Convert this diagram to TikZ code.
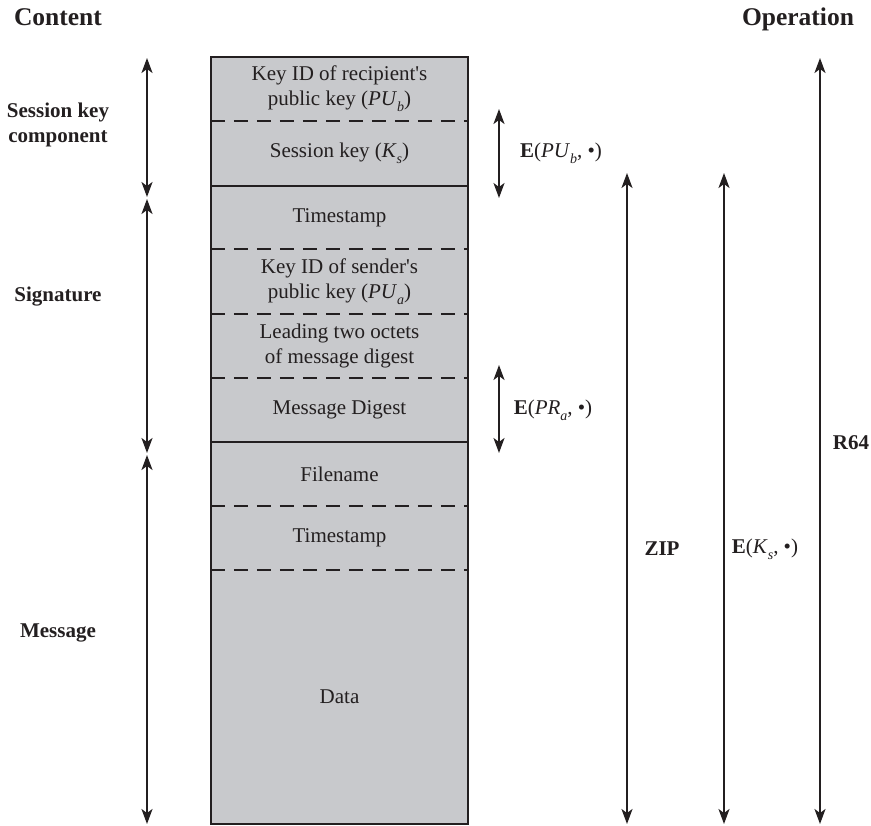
\documentclass[tikz,border=0pt]{standalone}
\usepackage{fontspec}
\setmainfont{Liberation Serif}
\usetikzlibrary{arrows.meta}
\definecolor{boxgray}{RGB}{200,201,204}
\definecolor{ink}{RGB}{35,31,32}
\newcommand{\mysub}[1]{\raisebox{-0.28em}{\fontsize{14}{14}\selectfont\itshape #1}}
\begin{document}
\begin{tikzpicture}[x=1pt,y=-1pt,
  sec/.style={fill=boxgray,draw=none,minimum width=257pt,inner sep=0pt,align=center,
    text=ink,font=\fontsize{21}{25}\selectfont},
  lab/.style={text=ink,align=center,font=\fontsize{21}{25}\selectfont\bfseries},
  oplab/.style={text=ink,align=center,font=\fontsize{21}{25}\selectfont},
  head/.style={text=ink,anchor=base,font=\fontsize{25.5}{30}\selectfont\bfseries},
  dar/.style={draw=ink,line width=2pt,{Stealth[length=15pt,width=11pt,inset=4pt]}-{Stealth[length=15pt,width=11pt,inset=4pt]}},
  divd/.style={draw=ink,line width=2pt,dash pattern=on 14pt off 9pt},
  divs/.style={draw=ink,line width=2.2pt}
]
\useasboundingbox (0,0) rectangle (871,826);
% sections
\node[sec,minimum height=64pt] (s1) at (339.5,89) {Key ID of recipient\textquotesingle s\\public key (\textit{PU}\mysub{b})};
\node[sec,minimum height=65pt] (s2) at (339.5,153.5) {Session key (\textit{K}\mysub{s})};
\node[sec,minimum height=63pt] (s3) at (339.5,217.5) {Timestamp};
\node[sec,minimum height=65pt] (s4) at (339.5,281.5) {Key ID of sender\textquotesingle s\\public key (\textit{PU}\mysub{a})};
\node[sec,minimum height=64pt] (s5) at (339.5,346) {Leading two octets\\of message digest};
\node[sec,minimum height=64pt] (s6) at (339.5,410) {Message Digest};
\node[sec,minimum height=64pt] (s7) at (339.5,474) {Filename};
\node[sec,minimum height=64pt] (s8) at (339.5,538) {Timestamp};
\node[sec,minimum height=254pt] (s9) at (339.5,697) {Data};
% dividers
\draw[divd] (s1.south west) -- (s1.south east);
\draw[divs] (s2.south west) -- (s2.south east);
\draw[divd] (s3.south west) -- (s3.south east);
\draw[divd] (s4.south west) -- (s4.south east);
\draw[divd] (s5.south west) -- (s5.south east);
\draw[divs] (s6.south west) -- (s6.south east);
\draw[divd] (s7.south west) -- (s7.south east);
\draw[divd] (s8.south west) -- (s8.south east);
\draw[divs] (s1.north west) rectangle (s9.south east);
% headings
\node[head] (hc) at (58,26) {Content};
\node[head] (ho) at (798,26) {Operation};
% content labels
\node[lab] (lsk) at (58,125) {Session key\\component};
\node[lab] (lsig) at (58,297) {Signature};
\node[lab] (lmsg) at (58,633) {Message};
% content arrows
\coordinate (skT) at (147,58);
\coordinate (skB) at (147,197);
\coordinate (sgT) at (147,199);
\coordinate (sgB) at (147,453);
\coordinate (msT) at (147,455);
\coordinate (msB) at (147,824);
\draw[dar] (skT) -- (skB);
\draw[dar] (sgT) -- (sgB);
\draw[dar] (msT) -- (msB);
% operation arrows
\coordinate (puT) at (499,109);
\coordinate (puB) at (499,198);
\coordinate (prT) at (499,365);
\coordinate (prB) at (499,453);
\coordinate (zT) at (627,173);
\coordinate (zB) at (627,824);
\coordinate (kT) at (724,173);
\coordinate (kB) at (724,824);
\coordinate (rT) at (820,58);
\coordinate (rB) at (820,824);
\draw[dar] (puT) -- (puB);
\draw[dar] (prT) -- (prB);
\draw[dar] (zT) -- (zB);
\draw[dar] (kT) -- (kB);
\draw[dar] (rT) -- (rB);
% operation labels
\node[oplab] (epu) at (561,153) {\textbf{E}(\textit{PU}\mysub{b}, \textbullet)};
\node[oplab] (epr) at (553,410) {\textbf{E}(\textit{PR}\mysub{a}, \textbullet)};
\node[lab] (zip) at (662,549) {ZIP};
\node[oplab] (eks) at (765,549) {\textbf{E}(\textit{K}\mysub{s}, \textbullet)};
\node[lab] (r64) at (851,443) {R64};
\end{tikzpicture}
\end{document}
